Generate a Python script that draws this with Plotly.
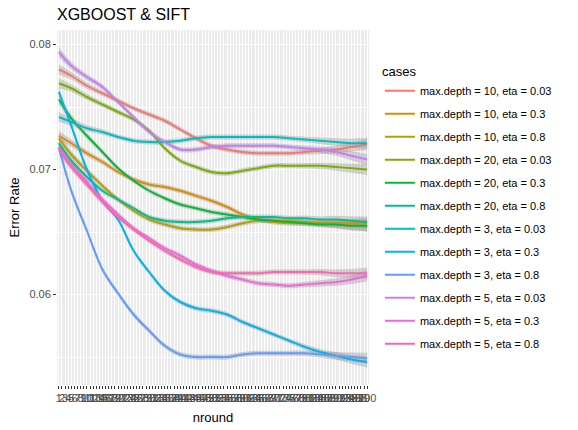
import plotly.graph_objects as go

# nround categories on the x axis
nrounds = [str(i) for i in range(1, 101)]

# points (every 5th round)
sample_rounds = ['1', '5', '10', '15', '20', '25', '30', '35', '40', '45', '50',
                 '55', '60', '65', '70', '75', '80', '85', '90', '95', '100']

cases = [
    'max.depth = 10, eta = 0.03', 'max.depth = 10, eta = 0.3', 'max.depth = 10, eta = 0.8',
    'max.depth = 20, eta = 0.03', 'max.depth = 20, eta = 0.3', 'max.depth = 20, eta = 0.8',
    'max.depth = 3, eta = 0.03', 'max.depth = 3, eta = 0.3', 'max.depth = 3, eta = 0.8',
    'max.depth = 5, eta = 0.03', 'max.depth = 5, eta = 0.3', 'max.depth = 5, eta = 0.8',
]

d10_e003 = [0.0780, 0.0775, 0.0767, 0.0761, 0.0755, 0.0749, 0.0744, 0.0739, 0.0732, 0.0725, 0.0719,
            0.0716, 0.0714, 0.0713, 0.0713, 0.0713, 0.0714, 0.0715, 0.0716, 0.0718, 0.0720]
d10_e03 = [0.0727, 0.0721, 0.0713, 0.0706, 0.0698, 0.0692, 0.0688, 0.0686, 0.0683, 0.0679, 0.0675,
           0.0670, 0.0664, 0.0660, 0.0658, 0.0657, 0.0657, 0.0657, 0.0657, 0.0657, 0.0657]
d10_e08 = [0.0725, 0.0712, 0.0699, 0.0687, 0.0676, 0.0667, 0.0660, 0.0656, 0.0653, 0.0652, 0.0652,
           0.0654, 0.0657, 0.0659, 0.0659, 0.0659, 0.0658, 0.0657, 0.0656, 0.0655, 0.0655]
d20_e003 = [0.0769, 0.0765, 0.0758, 0.0752, 0.0746, 0.0740, 0.0731, 0.0717, 0.0707, 0.0702, 0.0698,
            0.0697, 0.0699, 0.0701, 0.0703, 0.0703, 0.0703, 0.0703, 0.0702, 0.0701, 0.0700]
d20_e03 = [0.0756, 0.0741, 0.0727, 0.0714, 0.0701, 0.0691, 0.0683, 0.0677, 0.0672, 0.0669, 0.0666,
           0.0664, 0.0662, 0.0660, 0.0659, 0.0658, 0.0657, 0.0656, 0.0656, 0.0655, 0.0655]
d20_e08 = [0.0721, 0.0707, 0.0694, 0.0683, 0.0676, 0.0669, 0.0662, 0.0659, 0.0658, 0.0658, 0.0659,
           0.0661, 0.0662, 0.0662, 0.0662, 0.0661, 0.0661, 0.0660, 0.0660, 0.0659, 0.0658]
d3_e003 = [0.0742, 0.0738, 0.0733, 0.0730, 0.0726, 0.0723, 0.0722, 0.0722, 0.0723, 0.0725, 0.0726,
           0.0726, 0.0726, 0.0726, 0.0726, 0.0725, 0.0724, 0.0723, 0.0722, 0.0721, 0.0721]
d3_e03 = [0.0762, 0.0735, 0.0700, 0.0675, 0.0660, 0.0635, 0.0618, 0.0603, 0.0594, 0.0589, 0.0587,
          0.0584, 0.0578, 0.0573, 0.0568, 0.0563, 0.0558, 0.0554, 0.0551, 0.0548, 0.0546]
d3_e08 = [0.0718, 0.0683, 0.0651, 0.0620, 0.0601, 0.0584, 0.0571, 0.0559, 0.0552, 0.0550, 0.0550,
          0.0550, 0.0552, 0.0553, 0.0553, 0.0553, 0.0553, 0.0552, 0.0551, 0.0550, 0.0549]
d5_e003 = [0.0794, 0.0783, 0.0774, 0.0766, 0.0754, 0.0742, 0.0730, 0.0722, 0.0716, 0.0716, 0.0718,
           0.0719, 0.0719, 0.0719, 0.0719, 0.0718, 0.0717, 0.0716, 0.0714, 0.0711, 0.0708]
d5_e03 = [0.0718, 0.0704, 0.0690, 0.0676, 0.0664, 0.0653, 0.0645, 0.0637, 0.0631, 0.0624, 0.0619,
          0.0615, 0.0612, 0.0609, 0.0608, 0.0607, 0.0608, 0.0609, 0.0610, 0.0612, 0.0615]
d5_e08 = [0.0716, 0.0702, 0.0688, 0.0674, 0.0662, 0.0652, 0.0643, 0.0635, 0.0628, 0.0622, 0.0618,
          0.0617, 0.0617, 0.0617, 0.0618, 0.0618, 0.0618, 0.0618, 0.0617, 0.0617, 0.0617]

series = [d10_e003, d10_e03, d10_e08, d20_e003, d20_e03, d20_e08,
          d3_e003, d3_e03, d3_e08, d5_e003, d5_e03, d5_e08]

# half width of the grey confidence band
band = [0.00040, 0.00030, 0.00025, 0.00022, 0.00020, 0.00020, 0.00020, 0.00020, 0.00020, 0.00020, 0.00020,
        0.00020, 0.00020, 0.00020, 0.00020, 0.00020, 0.00022, 0.00025, 0.00030, 0.00036, 0.00045]

colors = ['#F8766D', '#DE8C00', '#B79F00', '#7CAE00', '#00BA38', '#00C08B',
          '#00BFC4', '#00B4F0', '#619CFF', '#C77CFF', '#F564E3', '#FF64B0']

fig = go.Figure()

# 1. confidence ribbons
for ys in series:
    fig.add_trace(go.Scatter(
        x=sample_rounds, y=[v + b for v, b in zip(ys, band)],
        mode='lines', line=dict(width=0, shape='spline'),
        showlegend=False, hoverinfo='skip'))
    fig.add_trace(go.Scatter(
        x=sample_rounds, y=[v - b for v, b in zip(ys, band)],
        mode='lines', line=dict(width=0, shape='spline'),
        fill='tonexty', fillcolor='rgba(153,153,153,0.4)',
        showlegend=False, hoverinfo='skip'))

# 2. smoothed lines
for name, ys, col in zip(cases, series, colors):
    fig.add_trace(go.Scatter(
        x=sample_rounds, y=ys, mode='lines', name=name, legendgroup=name,
        line=dict(color=col, width=2, shape='spline')))

axis_font = dict(family='Arial, Liberation Sans', size=11, color='#4D4D4D')

fig.update_layout(
    width=578, height=430,
    margin=dict(l=57, r=209, t=30, b=45, autoexpand=False),
    paper_bgcolor='white', plot_bgcolor='#EBEBEB',
    font=dict(family='Arial, Liberation Sans', color='black'),
    title=dict(text='XGBOOST & SIFT', x=57 / 578, xanchor='left',
               yref='container', y=1 - 14.5 / 430, yanchor='middle',
               font=dict(size=16, color='black'), automargin=False),
    legend=dict(title=dict(text='cases', font=dict(size=13)), x=1.035, xanchor='left',
                y=0.917, yanchor='top', font=dict(size=11), tracegroupgap=4,
                bgcolor='rgba(0,0,0,0)'),
    xaxis=dict(type='category', categoryorder='array', categoryarray=nrounds,
               range=[-0.6, 99.6], tickmode='array', tickvals=nrounds, ticktext=nrounds,
               tickangle=0, tickfont=axis_font, ticks='outside', ticklen=3, tickcolor='#333333',
               showgrid=True, gridcolor='white', gridwidth=1, zeroline=False, automargin=False,
               title=dict(text='nround', font=dict(size=13), standoff=9)),
    yaxis=dict(range=[0.05276, 0.08116], tickvals=[0.06, 0.07, 0.08],
               ticktext=['0.06', '0.07', '0.08'], tickfont=axis_font,
               ticks='outside', ticklen=3, tickcolor='#333333',
               showgrid=True, gridcolor='white', gridwidth=1.1, zeroline=False, automargin=False,
               minor=dict(tickvals=[0.055, 0.065, 0.075], showgrid=True, gridcolor='white', gridwidth=0.5),
               title=dict(text='Error Rate', font=dict(size=13), standoff=6)),
)

fig.write_html('out.html', config={'displayModeBar': False},
               post_script="document.body.style.margin='0px';")
